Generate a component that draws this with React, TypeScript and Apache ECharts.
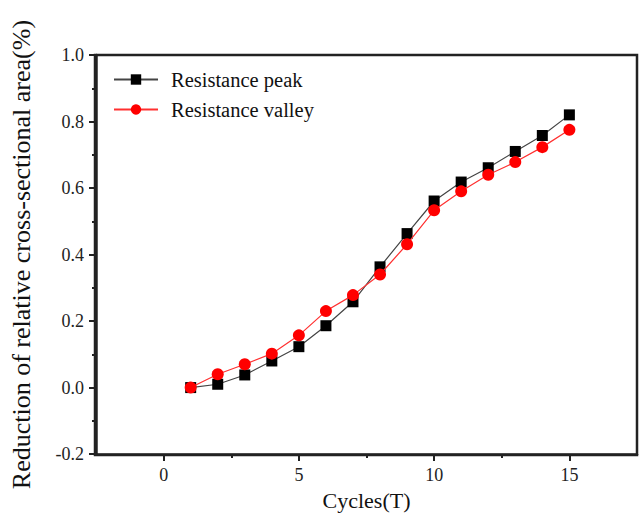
import React, { useEffect, useRef } from "react";
import * as echarts from "echarts";

const cycles = [1, 2, 3, 4, 5, 6, 7, 8, 9, 10, 11, 12, 13, 14, 15];
const peakValues = [0.0, 0.01, 0.038, 0.08, 0.123, 0.186, 0.258, 0.363, 0.463, 0.561, 0.618, 0.661, 0.71, 0.758, 0.82];
const valleyValues = [0.0, 0.04, 0.07, 0.102, 0.157, 0.23, 0.278, 0.34, 0.431, 0.533, 0.59, 0.64, 0.678, 0.723, 0.775];

const xMajorTicks = [0, 5, 10, 15];
const xMinorTicks = [2.5, 7.5, 12.5];

const FONT = "'Liberation Serif', 'Times New Roman', serif";
const INK = "#222";

// plot frame box, in px
const FRAME = { left: 95, top: 55, right: 3, bottom: 61 };

export default function App() {
  const ref = useRef<HTMLDivElement>(null);

  useEffect(() => {
    if (!ref.current) return;
    const chart = echarts.init(ref.current, undefined, { renderer: "svg" });
    const w = chart.getWidth();
    const h = chart.getHeight();
    const edge = () => ({ show: true, onZero: false, lineStyle: { color: INK, width: 2.5 } });
    const labelBase = { fontFamily: FONT, fontSize: 18, color: "#222", margin: 12 };
    chart.setOption({
      animation: false,
      textStyle: { fontFamily: FONT },
      grid: { ...FRAME },
      graphic: [
        {
          type: "rect",
          silent: true,
          z: 50,
          shape: {
            x: FRAME.left,
            y: FRAME.top,
            width: w - FRAME.left - FRAME.right,
            height: h - FRAME.top - FRAME.bottom,
          },
          style: { fill: "transparent", stroke: INK, lineWidth: 2.5 },
        },
      ],
      legend: {
        orient: "vertical",
        left: 108,
        top: 64,
        itemWidth: 44,
        itemHeight: 13,
        itemGap: 9,
        textStyle: { fontFamily: FONT, fontSize: 20.5, color: "#111", padding: [0, 0, 0, 8] },
        data: ["Resistance peak", "Resistance valley"],
      },
      xAxis: [
        {
          type: "value",
          min: -2.5,
          max: 17.5,
          name: "Cycles(T)",
          nameLocation: "middle",
          nameGap: 34,
          nameTextStyle: { fontFamily: FONT, fontSize: 22, color: "#111" },
          axisLine: edge(),
          axisTick: { show: true, inside: false, length: 7, customValues: xMajorTicks, lineStyle: { color: INK, width: 2 } },
          splitLine: { show: false },
          axisLabel: { ...labelBase, customValues: xMajorTicks },
        },
        {
          type: "value",
          min: -2.5,
          max: 17.5,
          position: "bottom",
          axisLine: { show: false, onZero: false },
          axisTick: { show: true, inside: false, length: 4, customValues: xMinorTicks, lineStyle: { color: INK, width: 2 } },
          axisLabel: { show: false },
          splitLine: { show: false },
        },
      ],
      yAxis: {
        type: "value",
        min: -0.2,
        max: 1.0,
        interval: 0.2,
        name: "Reduction of relative cross-sectional area(%)",
        nameLocation: "middle",
        nameGap: 62,
        nameTextStyle: { fontFamily: FONT, fontSize: 26, color: "#111" },
        axisLine: edge(),
        axisTick: { show: true, inside: false, length: 7, lineStyle: { color: INK, width: 2 } },
        minorTick: { show: true, splitNumber: 2, length: 4, lineStyle: { color: INK, width: 2 } },
        splitLine: { show: false },
        minorSplitLine: { show: false },
        axisLabel: { ...labelBase, formatter: (v: number) => v.toFixed(1) },
      },
      series: [
        {
          name: "Resistance peak",
          type: "line",
          data: cycles.map((c, i) => [c, peakValues[i]]),
          symbol: "rect",
          symbolSize: 11,
          itemStyle: { color: "#000" },
          lineStyle: { color: "#444", width: 1.2 },
          z: 3,
        },
        {
          name: "Resistance valley",
          type: "line",
          data: cycles.map((c, i) => [c, valleyValues[i]]),
          symbol: "circle",
          symbolSize: 12,
          itemStyle: { color: "#ff0000" },
          lineStyle: { color: "#ff3030", width: 1.2 },
          z: 4,
        },
      ],
    });
    return () => chart.dispose();
  }, []);

  return (
    <div
      ref={ref}
      style={{ position: "absolute", left: 0, top: 0, width: 640, height: 516, background: "#fff" }}
    />
  );
}
